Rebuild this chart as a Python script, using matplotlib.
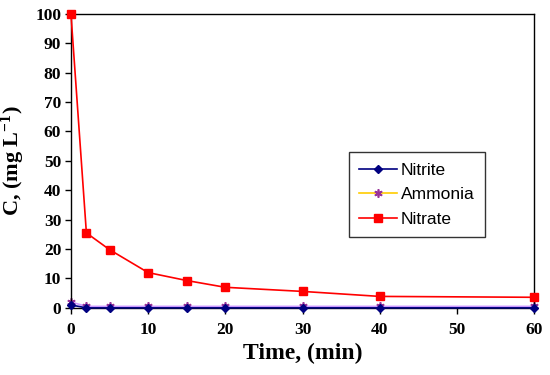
import matplotlib.pyplot as plt
from matplotlib.lines import Line2D

plt.rcParams['mathtext.fontset'] = 'custom'
plt.rcParams['mathtext.rm'] = 'Liberation Serif:bold'
plt.rcParams['mathtext.default'] = 'rm'

# time points (min)
time = [0, 2, 5, 10, 15, 20, 30, 40, 60]
nitrite = [1.0, 0, 0, 0, 0, 0, 0, 0, 0]
ammonia = [2.0, 0.5, 0.5, 0.5, 0.5, 0.5, 0.5, 0.5, 0.5]
nitrate = [100, 25.5, 19.8, 12.0, 9.3, 7.0, 5.6, 3.9, 3.6]

fig = plt.figure(figsize=(5.5, 3.75), dpi=100)
ax = fig.add_axes([0.129, 0.179, 0.842, 0.784])

ax.plot(time, ammonia, color='#cc99ff', lw=1.2, marker=(6, 2, 0), ms=6,
        mec='#993399', mew=1.2, zorder=2, clip_on=False)
ax.plot(time, nitrite, color='#000080', lw=1.2, marker='D', ms=4,
        mfc='#000080', mec='#000080', zorder=3, clip_on=False)
ax.plot(time, nitrate, color='#ff0000', lw=1.2, marker='s', ms=5.5,
        mfc='#ff0000', mec='#ff0000', zorder=4, clip_on=False)

ax.set_xlim(0, 60)
ax.set_ylim(0, 100)
ax.set_xticks(range(0, 61, 10))
ax.set_yticks(range(0, 101, 10))
ax.tick_params(direction='out', length=4, width=1, pad=3)
for lab in ax.get_xticklabels() + ax.get_yticklabels():
    lab.set_fontfamily('Liberation Serif')
    lab.set_fontweight('bold')
    lab.set_fontsize(12.5)
ax.tick_params(axis='x', pad=6)
for sp in ax.spines.values():
    sp.set_linewidth(1)
    sp.set_color('black')

ax.set_xlabel('Time, (min)', fontfamily='Liberation Serif', fontweight='bold',
              fontsize=17, labelpad=4)
ax.set_ylabel(r'C, (mg L$^{-1}$)', fontfamily='Liberation Serif', fontweight='bold',
              fontsize=16)
ax.yaxis.set_label_coords(-0.095, 0.5)

handles = [
    Line2D([], [], color='#000080', lw=1.2, marker='D', ms=4),
    Line2D([], [], color='#ffcc00', lw=1.2, marker=(6, 2, 0), ms=6,
           mec='#993399', mew=1.2),
    Line2D([], [], color='#ff0000', lw=1.2, marker='s', ms=5.5),
]
leg = ax.legend(handles, ['Nitrite', 'Ammonia', 'Nitrate'],
                loc='upper left', bbox_to_anchor=(0.6, 0.53),
                prop={'family': 'Liberation Sans', 'size': 12.5},
                frameon=True, fancybox=False, edgecolor='black',
                handlelength=2.2, labelspacing=0.55, borderpad=0.6,
                handletextpad=0.2, borderaxespad=0)
leg.get_frame().set_linewidth(1)

fig.savefig('out.png', dpi=100)
